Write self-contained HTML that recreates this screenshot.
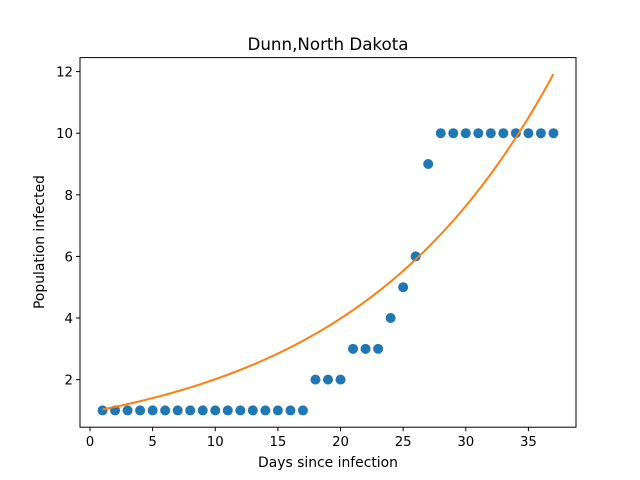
<!DOCTYPE html>
<html><head><meta charset="utf-8"><style>
body{margin:0;background:#fff;}
svg{display:block;font-family:"DejaVu Sans","Liberation Sans",sans-serif;}
</style></head><body>
<svg id="chart" width="640" height="480">
<rect x="0" y="0" width="640" height="480" fill="#fff"/>
<text x="328" y="50" text-anchor="middle" font-size="16.7">Dunn,North Dakota</text>
<g id="plot"></g>
<rect x="80" y="57.6" width="496" height="369.6" fill="none" stroke="#000" stroke-width="1"/>
<text x="328" y="467" text-anchor="middle" font-size="13.9">Days since infection</text>
<text transform="translate(44,242) rotate(-90)" text-anchor="middle" font-size="13.9">Population infected</text>
</svg>
<script>
const days = [1,2,3,4,5,6,7,8,9,10,11,12,13,14,15,16,17,18,19,20,21,22,23,24,25,26,27,28,29,30,31,32,33,34,35,36,37];
const infected = [1,1,1,1,1,1,1,1,1,1,1,1,1,1,1,1,1,2,2,2,3,3,3,4,5,6,9,10,10,10,10,10,10,10,10,10,10];
const fitParams = [1.246, 0.0617, -0.2955]; // a*exp(b*x)+c
const xTicks = [0,5,10,15,20,25,30,35];
const yTicks = [2,4,6,8,10,12];
const NS='http://www.w3.org/2000/svg';
const X0=-0.8,X1=38.8,Y0=0.455,Y1=12.455;
const L=80,R=576,T=57.6,B=427.2;
function sx(v){return L+(v-X0)/(X1-X0)*(R-L);}
function sy(v){return B-(v-Y0)/(Y1-Y0)*(B-T);}
const svg=document.getElementById('chart');
const plot=document.getElementById('plot');
function mk(t,a,p){const e=document.createElementNS(NS,t);for(const k in a)e.setAttribute(k,a[k]);(p||svg).appendChild(e);return e;}
xTicks.forEach(v=>{
  const l=mk('line',{x1:sx(v),x2:sx(v),y1:B,y2:B+4,stroke:'#000'});
  
  
  const t=mk('text',{x:sx(v),y:B+19,'text-anchor':'middle','font-size':'13.3'});
  t.textContent=v;
  
  
});
yTicks.forEach(v=>{
  const l=mk('line',{x1:L-4,x2:L,y1:sy(v),y2:sy(v),stroke:'#000'});
  
  
  const t=mk('text',{x:L-7,y:sy(v)+5,'text-anchor':'end','font-size':'13.3'});
  t.textContent=v;
  
  
});
days.forEach((d,i)=>{
  const c=mk('circle',{cx:sx(d),cy:sy(infected[i]),r:5,fill:'#1f77b4'},plot);
  
  
});
let pts=[];
for(let k=0;k<=100;k++){const x=days[0]+(days[days.length-1]-days[0])*k/100;
  const y=fitParams[0]*Math.exp(fitParams[1]*x)+fitParams[2];
  pts.push(sx(x).toFixed(2)+','+sy(y).toFixed(2));}
const pl=mk('polyline',{points:pts.join(' '),fill:'none',stroke:'#ff7f0e','stroke-width':2},plot);


</script>
</body></html>
